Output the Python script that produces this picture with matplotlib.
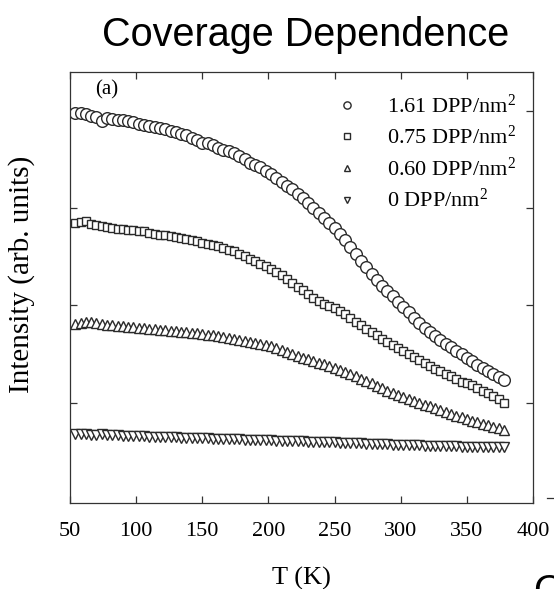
import matplotlib
matplotlib.use('Agg')
import matplotlib.pyplot as plt
from matplotlib.lines import Line2D

# temperature sweep (K)
temps = [54, 58, 62, 66, 70, 74, 78, 82, 86, 90, 94, 98, 102, 106, 110, 114,
         118, 122, 126, 130, 134, 138, 142, 146, 150, 154, 158, 162, 166, 170,
         174, 178, 182, 186, 190, 194, 198, 202, 206, 210, 214, 218, 222, 226,
         230, 234, 238, 242, 246, 250, 254, 258, 262, 266, 270, 274, 278, 282,
         286, 290, 294, 298, 302, 306, 310, 314, 318, 322, 326, 330, 334, 338,
         342, 346, 350, 354, 358, 362, 366, 370, 374, 378]

# intensities (arb. units)
cov_161 = [3.97, 3.97, 3.96, 3.94, 3.93, 3.89, 3.92, 3.91, 3.90, 3.90, 3.89,
           3.88, 3.86, 3.85, 3.84, 3.83, 3.82, 3.81, 3.79, 3.78, 3.76, 3.75,
           3.72, 3.70, 3.67, 3.67, 3.65, 3.62, 3.60, 3.58, 3.56, 3.53, 3.50,
           3.46, 3.44, 3.42, 3.38, 3.35, 3.31, 3.27, 3.23, 3.19, 3.14, 3.10,
           3.05, 3.00, 2.95, 2.90, 2.85, 2.79, 2.73, 2.67, 2.60, 2.53, 2.46,
           2.39, 2.32, 2.26, 2.20, 2.15, 2.10, 2.04, 1.98, 1.93, 1.87, 1.82,
           1.77, 1.73, 1.69, 1.65, 1.61, 1.57, 1.53, 1.50, 1.46, 1.43, 1.39,
           1.36, 1.33, 1.30, 1.27, 1.24]

cov_075 = [2.85, 2.86, 2.87, 2.84, 2.83, 2.82, 2.80, 2.79, 2.78, 2.78, 2.77,
           2.77, 2.76, 2.76, 2.74, 2.73, 2.72, 2.72, 2.71, 2.70, 2.69, 2.68,
           2.67, 2.66, 2.64, 2.63, 2.62, 2.61, 2.59, 2.57, 2.56, 2.53, 2.51,
           2.48, 2.46, 2.43, 2.40, 2.37, 2.34, 2.31, 2.27, 2.23, 2.19, 2.16,
           2.12, 2.08, 2.05, 2.02, 1.99, 1.97, 1.94, 1.91, 1.87, 1.83, 1.80,
           1.76, 1.73, 1.70, 1.66, 1.63, 1.59, 1.56, 1.53, 1.50, 1.47, 1.44,
           1.41, 1.38, 1.35, 1.33, 1.30, 1.28, 1.25, 1.22, 1.20, 1.18, 1.15,
           1.12, 1.10, 1.07, 1.04, 1.00]

cov_060 = [1.81, 1.82, 1.83, 1.83, 1.82, 1.81, 1.80, 1.80, 1.79, 1.79, 1.78,
           1.78, 1.77, 1.77, 1.76, 1.76, 1.75, 1.75, 1.74, 1.74, 1.73, 1.73,
           1.72, 1.72, 1.71, 1.70, 1.70, 1.69, 1.68, 1.67, 1.66, 1.65, 1.64,
           1.63, 1.62, 1.61, 1.59, 1.58, 1.56, 1.54, 1.52, 1.50, 1.48, 1.46,
           1.45, 1.43, 1.41, 1.40, 1.38, 1.36, 1.34, 1.32, 1.30, 1.28, 1.25,
           1.23, 1.20, 1.17, 1.15, 1.12, 1.10, 1.08, 1.06, 1.04, 1.02, 1.00,
           0.98, 0.97, 0.95, 0.93, 0.91, 0.89, 0.87, 0.86, 0.84, 0.82, 0.80,
           0.78, 0.77, 0.75, 0.74, 0.72]

cov_000 = [0.68, 0.68, 0.68, 0.67, 0.67, 0.68, 0.67, 0.67, 0.67, 0.66, 0.66,
           0.66, 0.66, 0.66, 0.65, 0.65, 0.65, 0.65, 0.65, 0.65, 0.64, 0.64,
           0.64, 0.64, 0.64, 0.64, 0.63, 0.63, 0.63, 0.63, 0.63, 0.63, 0.62,
           0.62, 0.62, 0.62, 0.62, 0.62, 0.61, 0.61, 0.61, 0.61, 0.61, 0.61,
           0.60, 0.60, 0.60, 0.60, 0.60, 0.60, 0.59, 0.59, 0.59, 0.59, 0.59,
           0.58, 0.58, 0.58, 0.58, 0.58, 0.57, 0.57, 0.57, 0.57, 0.57, 0.57,
           0.56, 0.56, 0.56, 0.56, 0.56, 0.56, 0.56, 0.55, 0.55, 0.55, 0.55,
           0.55, 0.55, 0.55, 0.55, 0.55]

labels = ['1.61 DPP/nm$^2$', '0.75 DPP/nm$^2$', '0.60 DPP/nm$^2$', '0 DPP/nm$^2$']
x_ticks = [50, 100, 150, 200, 250, 300, 350, 400]

plt.rcParams['font.family'] = 'Liberation Serif'
plt.rcParams['mathtext.fontset'] = 'custom'
plt.rcParams['mathtext.rm'] = 'Liberation Serif'
plt.rcParams['mathtext.default'] = 'regular'

edge = '#2a2a2a'

fig = plt.figure(figsize=(5.54, 5.89), dpi=100)
ax = fig.add_axes([70 / 554, 86 / 589, 463 / 554, 431 / 589])

ax.plot(temps, cov_161, 'o', ms=8.4, mfc='white', mec=edge, mew=1.0, label=labels[0])
ax.plot(temps, cov_075, 's', ms=6.4, mfc='white', mec=edge, mew=1.0, label=labels[1])
ax.plot(temps, cov_060, '^', ms=7.6, mfc='white', mec=edge, mew=1.0, label=labels[2])
ax.plot(temps, cov_000, 'v', ms=7.6, mfc='white', mec=edge, mew=1.0, label=labels[3])

ax.set_xlim(50, 400)
ax.set_ylim(-0.026, 4.395)
ax.set_xticks(x_ticks)
ax.set_yticks([1, 2, 3, 4])
ax.tick_params(direction='in', top=True, right=True, length=5, width=0.9,
               labelleft=False, labelsize=16, pad=14, color='#333333')
for s in ax.spines.values():
    s.set_linewidth(0.9)
    s.set_color('#333333')

ax.set_xlabel('T (K)', fontsize=19, va='top')
ax.xaxis.set_label_coords(0.5, -0.148)
ax.set_ylabel('Intensity (arb. units)', fontsize=21)
ax.yaxis.set_label_coords(-0.076, 0.53)

ax.text(0.054, 0.958, '(a)', transform=ax.transAxes, fontsize=15, ha='left', va='center')

ax.legend(loc='upper left', bbox_to_anchor=(0.532, 0.995), frameon=False,
          fontsize=16, markerscale=0.62, handlelength=1.0, handletextpad=1.3,
          labelspacing=0.38, borderpad=0.4)

fig.text(306 / 554, 1 - 46 / 589, 'Coverage Dependence', family='Liberation Sans',
         fontsize=28.5, ha='center', va='baseline')

# bits of the neighbouring panel cut off at the edge
fig.text(533 / 554, 1 - 603 / 589, 'O', family='Liberation Sans', fontsize=28.5,
         ha='left', va='baseline')
fig.add_artist(Line2D([547 / 554, 1.0], [1 - 498 / 589, 1 - 498 / 589],
                      transform=fig.transFigure, color='#333333', lw=0.9))

fig.savefig('out.png', dpi=100)
